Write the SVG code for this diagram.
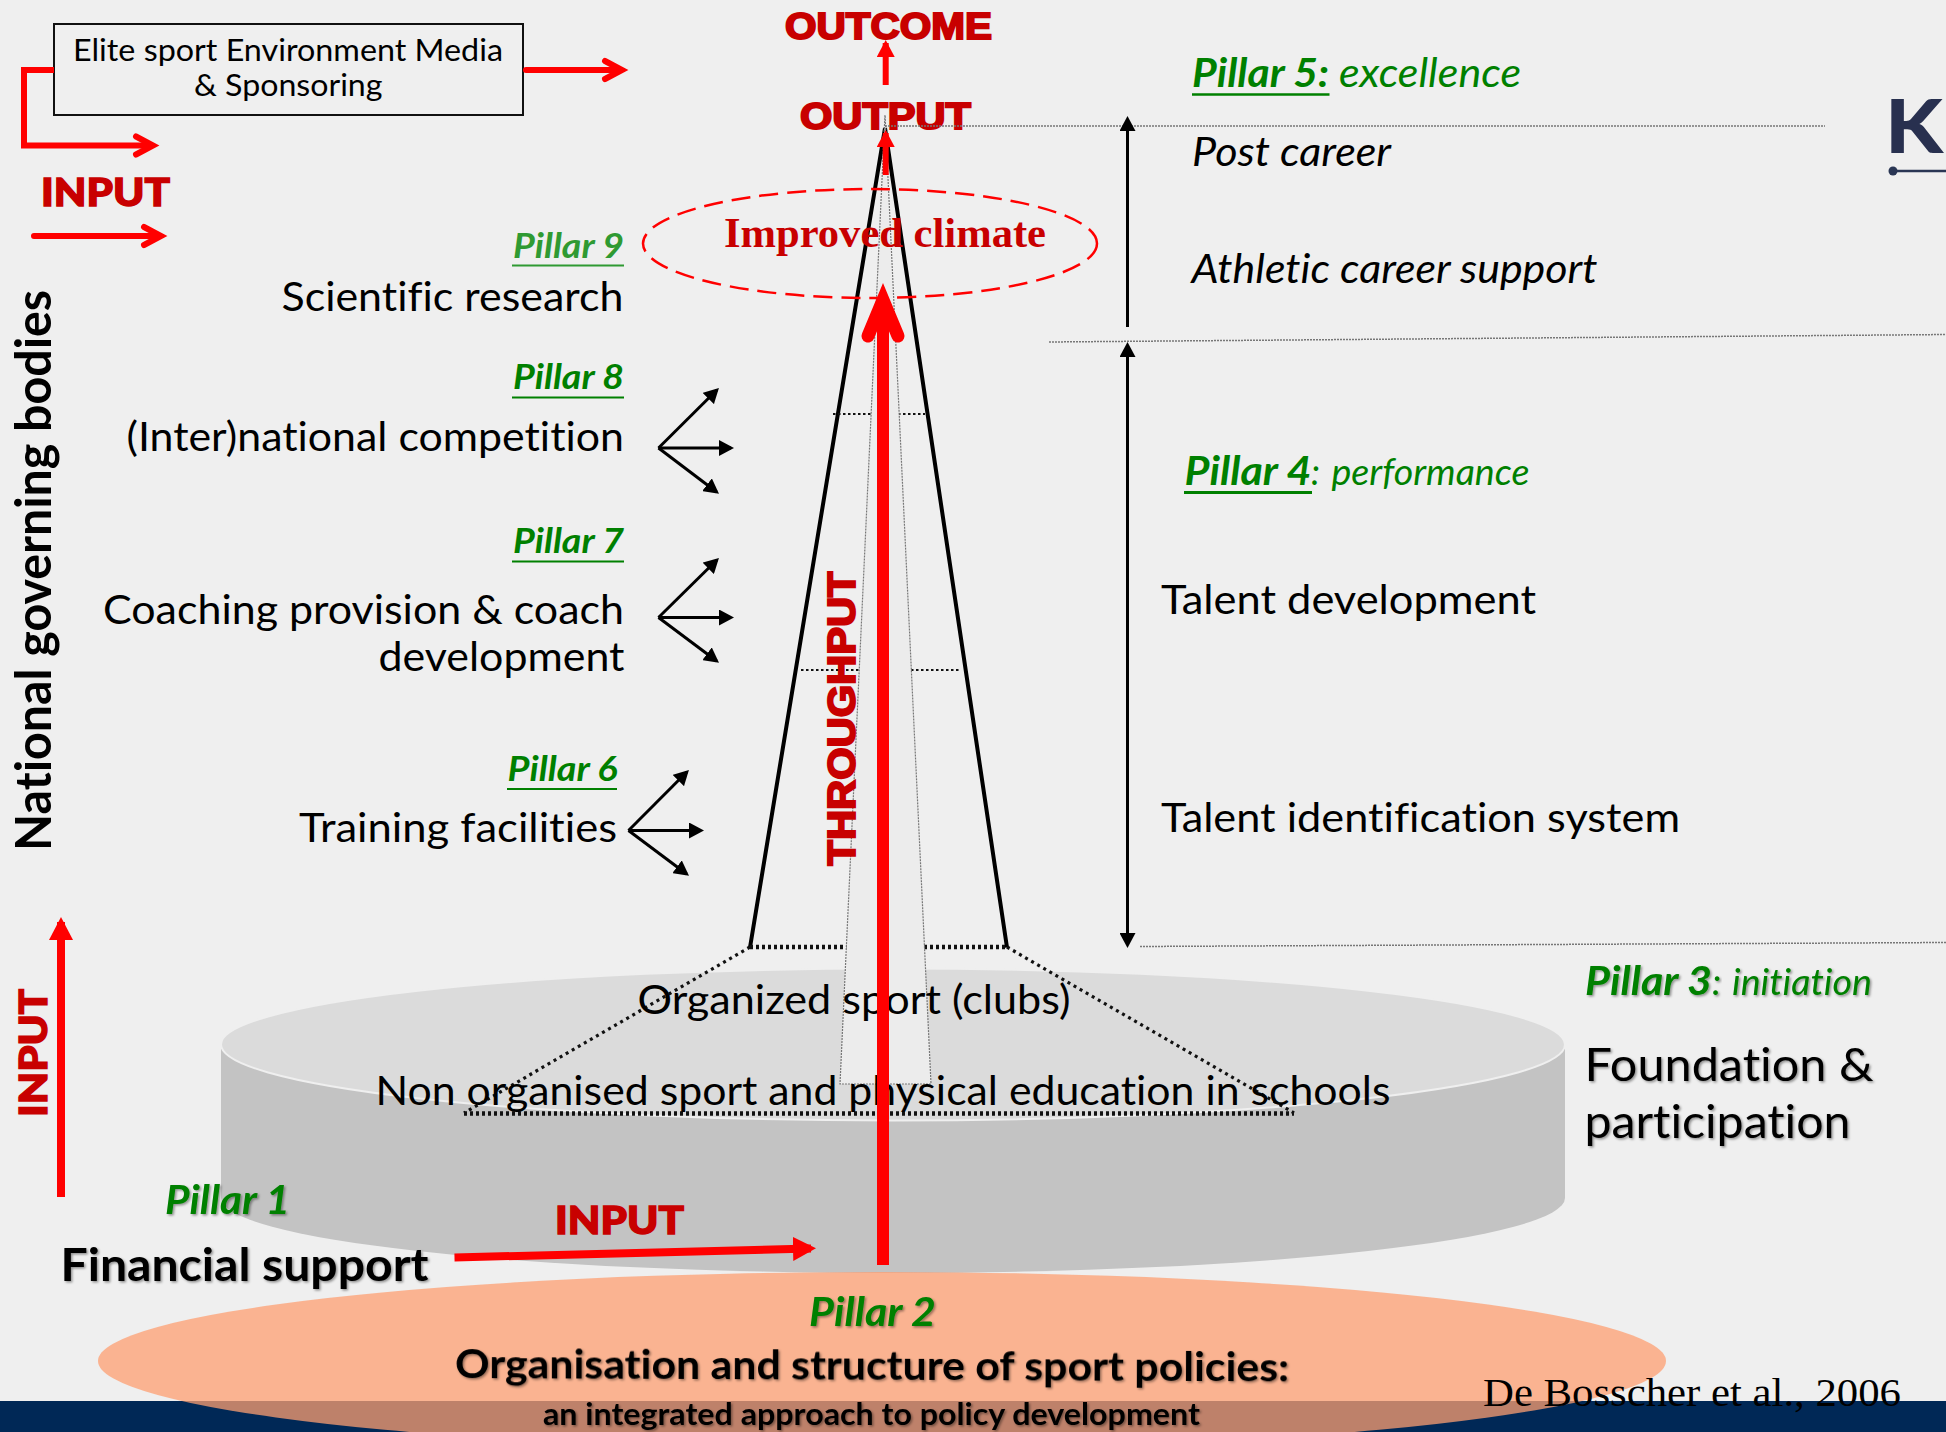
<svg xmlns="http://www.w3.org/2000/svg" width="1946" height="1432" viewBox="0 0 1946 1432">
<style>
text{font-family:Lato,"Liberation Sans",sans-serif;fill:#000;font-variant-ligatures:none}
.r{font-size:40px}
.g{fill:#008000;font-style:italic}
.gb{font-weight:700}
.i{font-style:italic}
.b{font-weight:700}
.hv{font-family:"Liberation Sans",Arial,sans-serif;font-weight:700;fill:#c80000;stroke:#c80000;stroke-width:2px}
.inp{font-family:Lato,sans-serif;font-weight:900;fill:#c80000;stroke:#c80000;stroke-width:1.4px;font-size:38px}
.u{stroke:#008000;fill:none}
.gl{stroke:#777;stroke-width:1.5;stroke-dasharray:2 1;fill:none}
.dot{stroke:#111;fill:none}
.rl{stroke:#f00;fill:none}
.ch{stroke:#f00;fill:none;stroke-width:6;stroke-linecap:round;stroke-linejoin:miter;stroke-miterlimit:10}
.bk{stroke:#000;stroke-width:3;fill:none;marker-end:url(#ab)}
.sh{filter:url(#shadow)}
</style>
<defs>
<marker id="ab" viewBox="0 0 15 16" markerUnits="userSpaceOnUse" markerWidth="15" markerHeight="16" refX="12" refY="8" orient="auto-start-reverse"><path d="M0 0L15 8L0 16Z" fill="#000"/></marker>
<marker id="ra" viewBox="0 0 17 18" markerUnits="userSpaceOnUse" markerWidth="17" markerHeight="18" refX="14" refY="9" orient="auto"><path d="M0 0L17 9L0 18Z" fill="#f00"/></marker>
<marker id="rb" viewBox="0 0 23 24" markerUnits="userSpaceOnUse" markerWidth="23" markerHeight="24" refX="18" refY="12" orient="auto"><path d="M0 0L23 12L0 24Z" fill="#f00"/></marker>
<filter id="shadow" x="-5%" y="-20%" width="110%" height="150%"><feDropShadow dx="1.5" dy="1.5" stdDeviation="1.2" flood-color="#000" flood-opacity=".4"/></filter>
</defs>

<rect width="1946" height="1432" fill="#efefef"/>
<rect id="footer-band" y="1401" width="1946" height="31" fill="#002856"/>

<g id="cylinder">
<path d="M221 1044V1198A671.5 75 0 0 0 1565 1198V1044Z" fill="#c3c3c3"/>
<ellipse cx="893" cy="1044.5" rx="672" ry="76" fill="#dbdbdb" stroke="#efefef" stroke-width="2"/>
</g>

<g id="pillar-2">
<ellipse cx="882" cy="1361" rx="784" ry="89" fill="#fd9f71" fill-opacity=".75"/>
<text class="g gb sh" x="809" y="1326" font-size="40" textLength="127" lengthAdjust="spacingAndGlyphs">Pillar 2</text>
<line class="u sh" x1="808.5" y1="1333.5" x2="935.5" y2="1333.5" stroke-width="2.5"/>
<text class="b sh" x="455" y="1378" font-size="41" textLength="834" lengthAdjust="spacingAndGlyphs" transform="rotate(.23 456 1378)">Organisation and structure of sport policies:</text>
<text class="b sh" x="543" y="1425" font-size="31" textLength="657" lengthAdjust="spacingAndGlyphs">an integrated approach to policy development</text>
</g>

<g id="pyramid">
<polyline points="750,947.5 885,128 1007,947.5" fill="none" stroke="#000" stroke-width="4" stroke-linejoin="miter"/>
<line class="dot" x1="750" y1="947" x2="1007" y2="947" stroke-width="4.5" stroke-dasharray="3 3"/>
<line class="dot" x1="833" y1="414" x2="925" y2="414" stroke-width="2" stroke-dasharray="2.5 2.5"/>
<line class="dot" x1="801" y1="670" x2="960" y2="670" stroke-width="2" stroke-dasharray="2.5 2.5"/>
<polygon points="885,115 840,1084 931,1084" fill="#ececec" stroke="#777" stroke-width="1.2" stroke-dasharray="2 1"/>
<line class="dot" x1="750" y1="947" x2="464" y2="1113" stroke-width="3.2" stroke-dasharray="3 4"/>
<line class="dot" x1="1007" y1="947" x2="1294" y2="1113" stroke-width="3.2" stroke-dasharray="3 4"/>
<line class="dot" x1="464" y1="1113.5" x2="1294" y2="1113.5" stroke-width="4.5" stroke-dasharray="3 3"/>
</g>

<g id="foundation-labels">
<text class="r" x="637.5" y="1014" font-size="41" textLength="433" lengthAdjust="spacingAndGlyphs">Organized sport (clubs)</text>
<text class="r" x="375.5" y="1105" textLength="1015" lengthAdjust="spacingAndGlyphs">Non organised sport and physical education in schools</text>
</g>

<g id="elite-box">
<rect x="54" y="24" width="469" height="91" fill="#efefef" stroke="#111" stroke-width="2"/>
<text x="73" y="61" font-size="31" textLength="430" lengthAdjust="spacingAndGlyphs">Elite sport Environment Media</text>
<text x="194" y="96" font-size="31" textLength="188.5" lengthAdjust="spacingAndGlyphs">&amp; Sponsoring</text>
</g>

<g id="input-top"><text class="inp" x="41" y="206" textLength="129" lengthAdjust="spacingAndGlyphs">INPUT</text></g>
<g id="input-side"><text class="inp" transform="translate(46.5 1117) rotate(-90)" x="0" y="0" textLength="128" lengthAdjust="spacingAndGlyphs">INPUT</text></g>
<g id="input-bottom"><text class="inp" x="555" y="1234" textLength="129" lengthAdjust="spacingAndGlyphs">INPUT</text></g>
<g id="national-bodies"><text class="b" transform="translate(50.5 851) rotate(-90)" x="0" y="0" font-size="49" textLength="561" lengthAdjust="spacingAndGlyphs">National governing bodies</text></g>

<g id="outcome"><text class="hv" x="785" y="39" font-size="37" textLength="207" lengthAdjust="spacingAndGlyphs">OUTCOME</text></g>
<g id="output"><text class="hv" x="800" y="129" font-size="37" textLength="171" lengthAdjust="spacingAndGlyphs">OUTPUT</text></g>
<g id="throughput"><text class="hv" transform="translate(855 865.5) rotate(-90)" x="0" y="0" font-size="38" textLength="294" lengthAdjust="spacingAndGlyphs">THROUGHPUT</text></g>

<g id="improved-climate">
<ellipse cx="870" cy="243.5" rx="227" ry="54.5" fill="none" stroke="#f00" stroke-width="2.5" stroke-dasharray="19 9"/>
<text x="724" y="247" font-size="43" font-weight="700" style="font-family:'Liberation Serif',serif;fill:#c80000" textLength="322" lengthAdjust="spacingAndGlyphs">Improved climate</text>
</g>

<g id="pillar-9">
<text class="g gb" style="fill:#2f9a32" x="513" y="257.5" font-size="35" textLength="111" lengthAdjust="spacingAndGlyphs">Pillar 9</text>
<line x1="512" y1="265.5" x2="624" y2="265.5" stroke="#2f9a32" stroke-width="2"/>
<text class="r" x="281.5" y="310.5" textLength="342" lengthAdjust="spacingAndGlyphs">Scientific research</text>
</g>
<g id="pillar-8">
<text class="g gb" x="513" y="389" font-size="35" textLength="111" lengthAdjust="spacingAndGlyphs">Pillar 8</text>
<line class="u" x1="512" y1="397.5" x2="624" y2="397.5" stroke-width="2"/>
<text class="r" x="126.5" y="450.5" textLength="497.5" lengthAdjust="spacingAndGlyphs">(Inter)national competition</text>
</g>
<g id="pillar-7">
<text class="g gb" x="513" y="553" font-size="35" textLength="111" lengthAdjust="spacingAndGlyphs">Pillar 7</text>
<line class="u" x1="512" y1="561.5" x2="624" y2="561.5" stroke-width="2"/>
<text class="r" x="103" y="623.5" textLength="521" lengthAdjust="spacingAndGlyphs">Coaching provision &amp; coach</text>
<text class="r" x="378.5" y="670.5" textLength="246" lengthAdjust="spacingAndGlyphs">development</text>
</g>
<g id="pillar-6">
<text class="g gb" x="507.5" y="781" font-size="35" textLength="110" lengthAdjust="spacingAndGlyphs">Pillar 6</text>
<line class="u" x1="507" y1="789" x2="617" y2="789" stroke-width="2"/>
<text class="r" x="299" y="841.5" textLength="318" lengthAdjust="spacingAndGlyphs">Training facilities</text>
</g>
<g id="pillar-1">
<text class="g gb sh" x="165" y="1214" font-size="40" textLength="125" lengthAdjust="spacingAndGlyphs">Pillar 1</text>
<line class="u sh" x1="164" y1="1221.5" x2="291" y2="1221.5" stroke-width="2.5"/>
<text class="b sh" x="60.5" y="1281" font-size="46" textLength="368" lengthAdjust="spacingAndGlyphs">Financial support</text>
</g>
<g id="pillar-5">
<text class="g gb" x="1192" y="87" font-size="41" textLength="137" lengthAdjust="spacingAndGlyphs">Pillar 5:</text>
<line class="u" x1="1192" y1="94.5" x2="1329.5" y2="94.5" stroke-width="2.5"/>
<text class="g" x="1339" y="87" font-size="41" textLength="182" lengthAdjust="spacingAndGlyphs">excellence</text>
<text class="i" x="1192" y="166" font-size="40" textLength="199" lengthAdjust="spacingAndGlyphs">Post career</text>
<text class="i" x="1191.5" y="283" font-size="40" textLength="406" lengthAdjust="spacingAndGlyphs">Athletic career support</text>
</g>
<g id="pillar-4">
<text class="g gb" x="1184.5" y="485" font-size="41" textLength="127" lengthAdjust="spacingAndGlyphs">Pillar 4</text>
<text class="g" x="1311" y="485" font-size="36">:</text>
<line class="u" x1="1184" y1="492.5" x2="1312" y2="492.5" stroke-width="3"/>
<text class="g" x="1331.5" y="485" font-size="36" textLength="198" lengthAdjust="spacingAndGlyphs">performance</text>
<text class="r" x="1161" y="613.5" textLength="375" lengthAdjust="spacingAndGlyphs" style="font-size:41px">Talent development</text>
<text class="r" x="1161" y="832" style="font-size:41px" textLength="519" lengthAdjust="spacingAndGlyphs">Talent identification system</text>
</g>
<g id="pillar-3">
<text class="g gb sh" x="1585" y="995" font-size="41" textLength="127" lengthAdjust="spacingAndGlyphs">Pillar 3</text>
<text class="g sh" x="1712" y="995" font-size="37">:</text>
<line class="u sh" x1="1585" y1="1002.5" x2="1712" y2="1002.5" stroke-width="2.5"/>
<text class="g sh" x="1732" y="995" font-size="37" textLength="140" lengthAdjust="spacingAndGlyphs">initiation</text>
<text class="sh" x="1584.5" y="1081" font-size="47" textLength="289" lengthAdjust="spacingAndGlyphs">Foundation &amp;</text>
<text class="sh" x="1584.5" y="1137.5" font-size="47" textLength="266" lengthAdjust="spacingAndGlyphs">participation</text>
</g>

<g id="logo">
<text x="1885" y="153" font-size="74" font-weight="900" style="fill:#28304f" textLength="58" lengthAdjust="spacingAndGlyphs">K</text>
<circle cx="1893" cy="171" r="4.5" fill="#2a3654"/>
<line x1="1893" y1="171" x2="1946" y2="171" stroke="#2a3654" stroke-width="2.5"/>
</g>

<g id="citation"><text x="1483" y="1406" font-size="41" style="font-family:'Liberation Serif',serif" textLength="418" lengthAdjust="spacingAndGlyphs">De Bosscher et al., 2006</text></g>

<g id="connectors">
<line class="gl" x1="885" y1="126" x2="1825" y2="126"/>
<line class="gl" x1="1049" y1="342" x2="1946" y2="334.5"/>
<line class="gl" x1="1140" y1="946.5" x2="1946" y2="942.5"/>

<line class="bk" x1="1127.5" y1="327" x2="1127.5" y2="119"/>
<line class="bk" x1="1127.5" y1="345" x2="1127.5" y2="945" style="marker-start:url(#ab)"/>

<line class="bk" x1="658.5" y1="448" x2="716.8" y2="390"/>
<line class="bk" x1="658.5" y1="448" x2="731" y2="448"/>
<line class="bk" x1="658.5" y1="448" x2="716.6" y2="492"/>
<line class="bk" x1="658.5" y1="617.5" x2="716.8" y2="560"/>
<line class="bk" x1="658.5" y1="617.5" x2="731" y2="617.5"/>
<line class="bk" x1="658.5" y1="617.5" x2="716.6" y2="661"/>
<line class="bk" x1="628.5" y1="830.5" x2="686.8" y2="772"/>
<line class="bk" x1="628.5" y1="830.5" x2="701" y2="830.5"/>
<line class="bk" x1="628.5" y1="830.5" x2="686.6" y2="874"/>

<path class="ch" d="M526 70H621M605 61L622 70L605 79"/>
<path class="rl" stroke-width="6" d="M54 70H24V145.5H150"/>
<path class="ch" d="M136 136.5L153 145.5L136 154.5"/>
<path class="ch" d="M34 236H159M144 227L161 236L144 245"/>

<line class="rl" stroke-width="6" x1="885.7" y1="85" x2="885.7" y2="43" marker-end="url(#ra)"/>
<line class="rl" stroke-width="6" x1="885.7" y1="175" x2="885.7" y2="133" marker-end="url(#ra)"/>
<line class="rl" stroke-width="8" x1="61" y1="1197" x2="61" y2="922" marker-end="url(#rb)"/>
<line class="rl" stroke-width="8" x1="454.5" y1="1257.5" x2="811" y2="1248.5" marker-end="url(#rb)"/>

<line class="rl" stroke-width="12" x1="883" y1="1265" x2="883" y2="300"/>
<polyline points="868,336 883,300 898,336" fill="none" stroke="#f00" stroke-width="13" stroke-linecap="round" stroke-linejoin="miter" stroke-miterlimit="10"/>
</g>
</svg>
